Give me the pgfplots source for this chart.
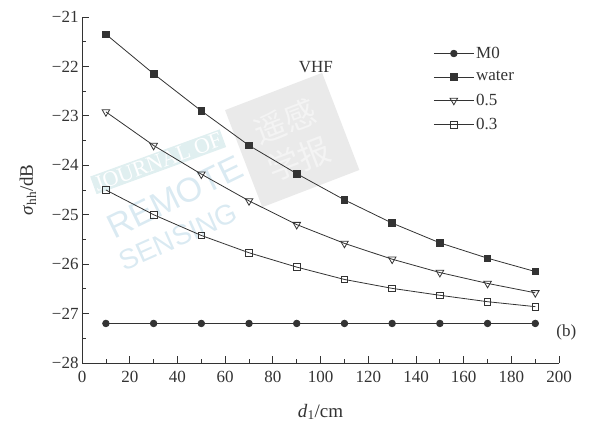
\documentclass[border=0pt]{standalone}
\usepackage{pgfplots}
\pgfplotsset{compat=1.18}
\usepackage{fontspec}
\setmainfont{Liberation Serif}
\newfontfamily\wmsans{Liberation Sans}
\newfontfamily\cjk{Noto Sans CJK SC}
\definecolor{ink}{HTML}{333333}
\definecolor{wmblue}{HTML}{DAEAF2}
\definecolor{wmband}{HTML}{E0EFF0}
\definecolor{wmgray}{HTML}{EAEAEA}
\definecolor{wmglyph}{HTML}{F4F4F4}

\begin{document}
\begin{tikzpicture}
\begin{axis}[
  scale only axis,
  width=477pt, height=346pt,
  xmin=0, xmax=200, ymin=-28, ymax=-21,
  axis x line=bottom, axis y line=left,
  axis line style={-, ink, line width=0.8pt},
  tick style={ink, line width=0.8pt},
  tick align=inside,
  major tick length=7pt, minor tick length=4pt,
  xtick={0,20,...,200}, minor x tick num=1,
  ytick={-28,-27,...,-21}, minor y tick num=1,
  yticklabels={−28,−27,−26,−25,−24,−23,−22,−21},
  font=\fontsize{17}{20}\selectfont,
  tick label style={font=\fontsize{17}{20}\selectfont, text=ink},
  xticklabel style={yshift=-5pt},
  /pgf/number format/assume math mode=true,
  xlabel={\textit{d}\textsubscript{1}/cm},
  ylabel={\textit{σ}\textsubscript{hh}/dB},
  label style={text=ink, font=\fontsize{19}{22}\selectfont},
  xlabel style={yshift=-14pt},
  ylabel style={yshift=9pt},
  clip=false,
  every axis plot/.append style={ink, line width=0.8pt},
  legend style={draw=none, fill=none, at={(rel axis cs:0.73,0.925)}, anchor=north west,
    font=\fontsize{17}{20}\selectfont, text=ink, row sep=7.5pt,
    /tikz/every even column/.append style={column sep=2pt}},
  legend cell align=left,
  legend image code/.code={
    \draw[#1, mark repeat=2, mark phase=2] plot coordinates {(0cm,0cm) (0.7cm,0cm) (1.4cm,0cm)};
  },
]
% faint background stamp of the journal
\node[rotate=20, fill=wmband, text=white, inner sep=2pt, font=\fontsize{22}{24}\selectfont]
  at (axis cs:31.9,-23.93) {JOURNAL OF};
\node[rotate=26, text=wmblue, font=\wmsans\fontsize{34}{36}\selectfont]
  at (axis cs:39.0,-24.64) {REMOTE};
\node[rotate=24, text=wmblue, font=\wmsans\fontsize{28}{30}\selectfont]
  at (axis cs:40.3,-25.45) {SENSING};
\node[rotate=21, fill=wmgray, minimum size=104pt, inner sep=0pt] at (axis cs:88.1,-23.49) {};
\node[rotate=21, text=wmglyph, font=\cjk\fontsize{32}{40}\selectfont, align=center]
  at (axis cs:88.1,-23.49) {遥感\\学报};
\addplot[mark=*, mark size=3.3pt, mark options={fill=ink}] coordinates {
  (10,-27.2) (30,-27.2) (50,-27.2) (70,-27.2) (90,-27.2)
  (110,-27.2) (130,-27.2) (150,-27.2) (170,-27.2) (190,-27.2)};
\addlegendentry{M0}
\addplot[mark=square*, mark size=3.3pt, mark options={fill=ink}] coordinates {
  (10,-21.35) (30,-22.15) (50,-22.90) (70,-23.60) (90,-24.17)
  (110,-24.70) (130,-25.17) (150,-25.57) (170,-25.88) (190,-26.15)};
\addlegendentry{water}
\addplot[mark=triangle, mark size=4.4pt, mark options={fill=white, rotate=180}] coordinates {
  (10,-22.92) (30,-23.60) (50,-24.18) (70,-24.72) (90,-25.20)
  (110,-25.58) (130,-25.90) (150,-26.17) (170,-26.39) (190,-26.58)};
\addlegendentry{0.5}
\addplot[mark=square, mark size=3.3pt, mark options={fill=white}] coordinates {
  (10,-24.50) (30,-25.00) (50,-25.42) (70,-25.77) (90,-26.06)
  (110,-26.31) (130,-26.49) (150,-26.63) (170,-26.76) (190,-26.86)};
\addlegendentry{0.3}
\node[text=ink] at (axis cs:98,-22.02) {VHF};
\node[text=ink] at (axis cs:203,-27.38) {(b)};
\path (rel axis cs:-0.172,-0.185) rectangle (rel axis cs:1.071,1.049);
\end{axis}
\end{tikzpicture}
\end{document}
